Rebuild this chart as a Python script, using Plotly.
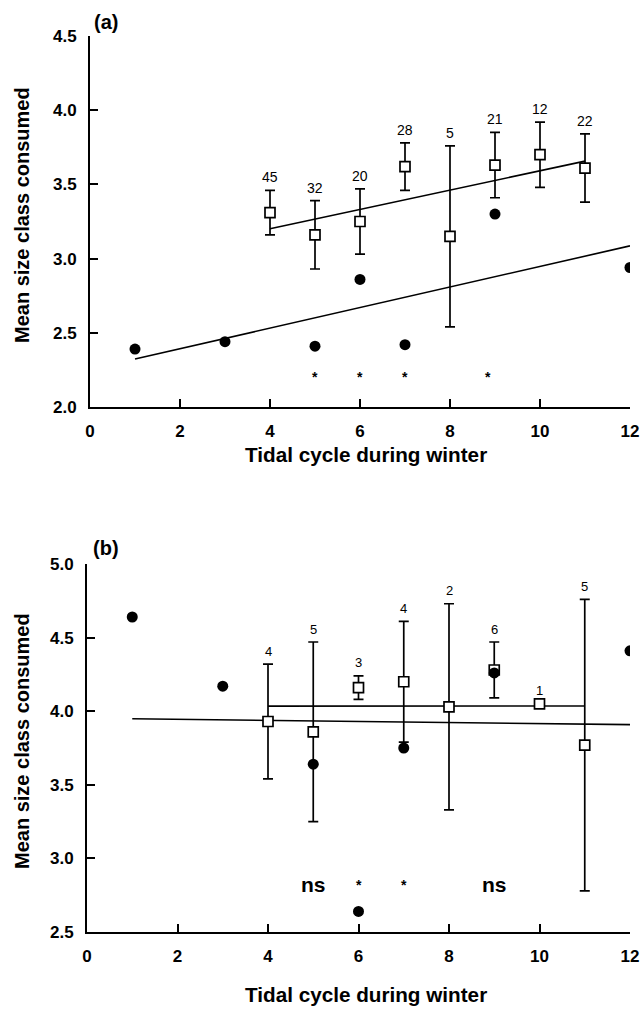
import numpy as np
import plotly.graph_objects as go

# ---------------- data ----------------
# Panel (a)
a_sq_x = [4, 5, 6, 7, 8, 9, 10, 11]
a_sq_y = [3.31, 3.16, 3.25, 3.62, 3.15, 3.63, 3.70, 3.61]
a_sq_err = [0.15, 0.23, 0.22, 0.16, 0.61, 0.22, 0.22, 0.23]
a_sq_n = ["45", "32", "20", "28", "5", "21", "12", "22"]
a_ci_x = [1, 3, 5, 6, 7, 9, 12]
a_ci_y = [2.39, 2.44, 2.41, 2.86, 2.42, 3.30, 2.94]
a_sig_x = [5, 6, 7, 8.85]
a_sig_lab = ["*", "*", "*", "*"]
a_sig_y = 2.2

# Panel (b)
b_sq_x = [4, 5, 6, 7, 8, 9, 10, 11]
b_sq_y = [3.93, 3.86, 4.16, 4.20, 4.03, 4.28, 4.05, 3.77]
b_sq_err = [0.39, 0.61, 0.08, 0.41, 0.70, 0.19, 0.0, 0.99]
b_sq_n = ["4", "5", "3", "4", "2", "6", "1", "5"]
b_ci_x = [1, 3, 5, 6, 7, 9, 12]
b_ci_y = [4.64, 4.17, 3.64, 2.64, 3.75, 4.26, 4.41]
b_sig_x = [5, 6, 7, 9]
b_sig_lab = ["ns", "*", "*", "ns"]
b_sig_y = 2.82

x_ticks = [0, 2, 4, 6, 8, 10, 12]
a_y_ticks = [2.0, 2.5, 3.0, 3.5, 4.0, 4.5]
b_y_ticks = [2.5, 3.0, 3.5, 4.0, 4.5, 5.0]

FONT = "Liberation Sans, Arial, sans-serif"
W, H = 643, 1010

fig = go.Figure()


def add_panel(xa, ya, sq_x, sq_y, sq_err, sq_n, ci_x, ci_y, sig_x, sig_lab, sig_y, nsize):
    # regression lines
    for xs, ys in ((ci_x, ci_y), (sq_x, sq_y)):
        k, b = np.polyfit(xs, ys, 1)
        lx = np.array([min(xs), max(xs)])
        fig.add_trace(go.Scatter(x=lx, y=k * lx + b, mode="lines",
                                 line=dict(color="black", width=1.6),
                                 xaxis=xa, yaxis=ya, showlegend=False, hoverinfo="skip"))
    # squares with error bars
    fig.add_trace(go.Scatter(x=sq_x, y=sq_y, mode="markers",
                             marker=dict(symbol="square", size=10, color="white",
                                         line=dict(color="black", width=1.7)),
                             error_y=dict(type="data", array=sq_err, visible=True,
                                          color="black", thickness=1.7, width=5),
                             xaxis=xa, yaxis=ya, showlegend=False))
    # filled circles
    fig.add_trace(go.Scatter(x=ci_x, y=ci_y, mode="markers",
                             marker=dict(symbol="circle", size=11, color="black"),
                             xaxis=xa, yaxis=ya, showlegend=False))
    for x, y, e, n in zip(sq_x, sq_y, sq_err, sq_n):
        fig.add_annotation(x=x, y=y + e, xref=xa, yref=ya, text=n, showarrow=False,
                           yshift=13, xanchor="center", yanchor="middle",
                           font=dict(size=nsize, color="black", family=FONT))
    for x, lab in zip(sig_x, sig_lab):
        big = lab != "*"
        fig.add_annotation(x=x, y=sig_y, xref=xa, yref=ya,
                           text="<b>%s</b>" % lab, showarrow=False,
                           xanchor="center", yanchor="middle",
                           font=dict(size=21 if big else 14, color="black", family=FONT))


add_panel("x", "y", a_sq_x, a_sq_y, a_sq_err, a_sq_n, a_ci_x, a_ci_y,
          a_sig_x, a_sig_lab, a_sig_y, 14)
add_panel("x2", "y2", b_sq_x, b_sq_y, b_sq_err, b_sq_n, b_ci_x, b_ci_y,
          b_sig_x, b_sig_lab, b_sig_y, 13)

axis_common = dict(showgrid=False, zeroline=False, showline=True, linecolor="black",
                   linewidth=2, ticks="inside", ticklen=8, tickwidth=1.6, tickcolor="black",
                   automargin=False,
                   tickfont=dict(size=17, color="black", family=FONT))

fig.update_layout(
    width=W, height=H, margin=dict(l=0, r=0, t=0, b=0, autoexpand=False),
    paper_bgcolor="white", plot_bgcolor="white", showlegend=False,
    xaxis=dict(domain=[90 / W, 630 / W], range=[0, 12], tickvals=x_ticks,
               ticktext=["<b>%d</b>" % v for v in x_ticks], anchor="y",
               ticklabelstandoff=8, **axis_common),
    yaxis=dict(domain=[1 - 407 / H, 1 - 36 / H], range=[2.0, 4.5], tickvals=a_y_ticks,
               ticktext=["<b>%.1f</b>" % v for v in a_y_ticks], anchor="x",
               ticklabelstandoff=8, **axis_common),
    xaxis2=dict(domain=[87 / W, 630 / W], range=[0, 12], tickvals=x_ticks,
                ticktext=["<b>%d</b>" % v for v in x_ticks], anchor="y2",
                ticklabelstandoff=8, **axis_common),
    yaxis2=dict(domain=[1 - 932 / H, 1 - 564 / H], range=[2.5, 5.0], tickvals=b_y_ticks,
                ticktext=["<b>%.1f</b>" % v for v in b_y_ticks], anchor="x2",
                ticklabelstandoff=8, **axis_common),
)

# titles and panel labels
for ypix, lab in ((22, "(a)"), (548, "(b)")):
    fig.add_annotation(x=106 / W, y=1 - ypix / H, xref="paper", yref="paper",
                       xanchor="center", yanchor="middle",
                       text="<b>%s</b>" % lab, showarrow=False,
                       font=dict(size=20, color="black", family=FONT))
for ypix in (455, 994):
    fig.add_annotation(x=366 / W, y=1 - ypix / H, xref="paper", yref="paper",
                       xanchor="center", yanchor="middle",
                       text="<b>Tidal cycle during winter</b>", showarrow=False,
                       font=dict(size=20.7, color="black", family=FONT))
for ypix in (215, 741):
    fig.add_annotation(x=22 / W, y=1 - ypix / H, xref="paper", yref="paper",
                       xanchor="center", yanchor="middle",
                       text="<b>Mean size class consumed</b>", showarrow=False,
                       textangle=-90, font=dict(size=20, color="black", family=FONT))

fig.write_html("out.html")
